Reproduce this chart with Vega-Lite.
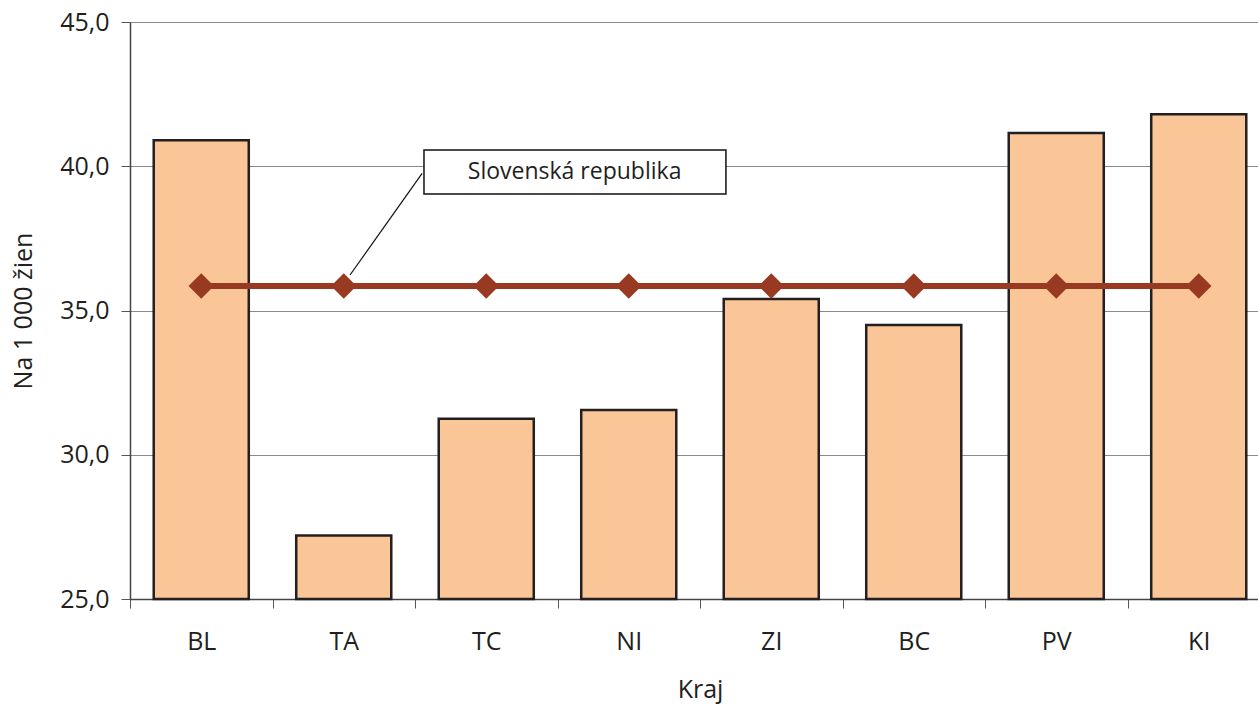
{
  "$schema": "https://vega.github.io/schema/vega-lite/v6.json",
  "width": 1140,
  "height": 577,
  "autosize": {"type": "none"},
  "padding": {"left": 130, "top": 22, "right": 0, "bottom": 107},
  "background": "white",
  "config": {
    "locale": {"number": {"decimal": ",", "thousands": " ", "grouping": [3], "currency": ["", " €"]}},
    "font": "Open Sans",
    "view": {"stroke": null}
  },
  "datasets": {
    "kraje": [
      {"kraj": "BL", "hodnota": 40.9, "sr": 35.85},
      {"kraj": "TA", "hodnota": 27.2, "sr": 35.85},
      {"kraj": "TC", "hodnota": 31.25, "sr": 35.85},
      {"kraj": "NI", "hodnota": 31.55, "sr": 35.85},
      {"kraj": "ZI", "hodnota": 35.4, "sr": 35.85},
      {"kraj": "BC", "hodnota": 34.5, "sr": 35.85},
      {"kraj": "PV", "hodnota": 41.15, "sr": 35.85},
      {"kraj": "KI", "hodnota": 41.8, "sr": 35.85}
    ],
    "popis": [
      {"x1": 2.063, "x2": 4.182, "y1": 40.56, "y2": 39.04, "xt": 3.12, "yt": 39.8, "text": "Slovenská republika"}
    ],
    "ciara": [
      {"x": 2.05, "y": 39.75},
      {"x": 1.544, "y": 36.23}
    ]
  },
  "layer": [
    {
      "data": {"name": "kraje"},
      "encoding": {
        "x": {
          "field": "kraj", "type": "nominal", "sort": null,
          "scale": {"paddingInner": 0, "paddingOuter": 0},
          "axis": {
            "title": "Kraj", "titleFontSize": 25, "titleFontWeight": "normal", "titleColor": "#231f20", "titlePadding": 23,
            "labelAngle": 0, "labelFontSize": 25, "labelColor": "#231f20", "labelPadding": 21,
            "tickBand": "extent", "tickSize": 9, "tickColor": "#555", "domainColor": "#444", "domainWidth": 1.5
          }
        }
      },
      "layer": [
        {
          "mark": {"type": "bar", "fill": "#fbc697", "stroke": "#231f20", "strokeWidth": 2.5, "width": {"band": 0.667}},
          "encoding": {
            "y": {
              "field": "hodnota", "type": "quantitative",
              "scale": {"domain": [25, 45], "zero": false, "nice": false},
              "axis": {
                "title": "Na 1 000 žien", "titleFontSize": 25, "titleFontWeight": "normal", "titleColor": "#231f20", "titlePadding": 23,
                "values": [25, 30, 35, 40, 45], "format": ".1f",
                "labelFontSize": 25, "labelColor": "#231f20", "labelPadding": 12,
                "tickSize": 9, "tickColor": "#555", "domainColor": "#444", "domainWidth": 1.5,
                "grid": true, "gridColor": "#8a8a8a", "gridWidth": 1
              }
            },
            "y2": {"datum": 25}
          }
        },
        {
          "mark": {"type": "line", "color": "#983a22", "strokeWidth": 6},
          "encoding": {
            "y": {"field": "sr", "type": "quantitative"}
          }
        },
        {
          "mark": {"type": "point", "shape": "diamond", "filled": true, "color": "#983a22", "size": 650, "opacity": 1},
          "encoding": {
            "y": {"field": "sr", "type": "quantitative"}
          }
        }
      ]
    },
    {
      "encoding": {
        "x": {"type": "quantitative", "scale": {"domain": [0, 8], "nice": false, "zero": false}, "axis": null}
      },
      "layer": [
        {
          "data": {"name": "ciara"},
          "mark": {"type": "line", "color": "#111", "strokeWidth": 1.2},
          "encoding": {
            "x": {"field": "x", "type": "quantitative", "scale": {"domain": [0, 8], "nice": false, "zero": false}, "axis": null},
            "y": {"field": "y", "type": "quantitative"}
          }
        },
        {
          "data": {"name": "popis"},
          "mark": {"type": "rect", "fill": "white", "stroke": "#111", "strokeWidth": 1.5},
          "encoding": {
            "x": {"field": "x1", "type": "quantitative", "scale": {"domain": [0, 8], "nice": false, "zero": false}, "axis": null},
            "x2": {"field": "x2"},
            "y": {"field": "y1", "type": "quantitative"},
            "y2": {"field": "y2"}
          }
        },
        {
          "data": {"name": "popis"},
          "mark": {"type": "text", "fontSize": 23, "color": "#231f20", "align": "center", "baseline": "middle"},
          "encoding": {
            "x": {"field": "xt", "type": "quantitative", "scale": {"domain": [0, 8], "nice": false, "zero": false}, "axis": null},
            "y": {"field": "yt", "type": "quantitative"},
            "text": {"field": "text"}
          }
        }
      ]
    }
  ],
  "resolve": {"scale": {"x": "independent"}}
}
